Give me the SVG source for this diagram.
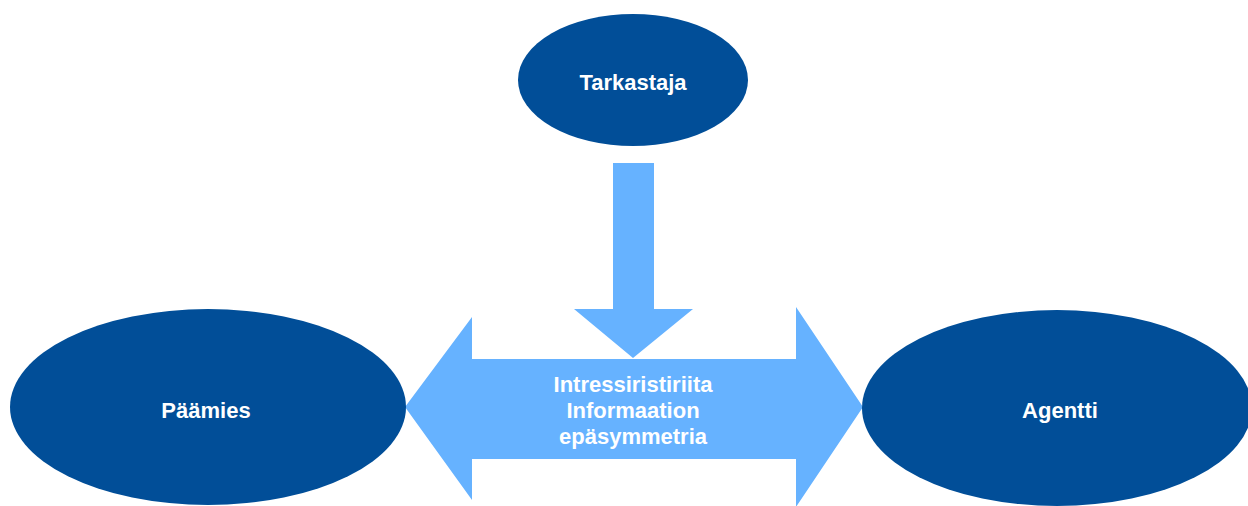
<svg xmlns="http://www.w3.org/2000/svg" width="1248" height="506" viewBox="0 0 1248 506">
<style>
.node{fill:#014e98}
.arrow{fill:#66b2ff}
.lbl{font-family:"Liberation Sans",Arial,sans-serif;font-weight:bold;font-size:22px;fill:#ffffff;text-anchor:middle}
</style>
<rect width="1248" height="506" fill="#ffffff"/>
<g id="connectors">
<polygon class="arrow" points="613,163 654,163 654,309 693,309 633,358 574,309 613,309"/>
<polygon class="arrow" points="405,407 472,317 472,359 796,359 796,307 863,407 796,507 796,459 472,459 472,500"/>
<text class="lbl" x="633" y="392">Intressiristiriita</text>
<text class="lbl" x="633" y="418">Informaation</text>
<text class="lbl" x="633" y="444">epäsymmetria</text>
</g>
<g id="tarkastaja">
<ellipse class="node" cx="633" cy="80" rx="115" ry="66"/>
<text class="lbl" x="633" y="90">Tarkastaja</text>
</g>
<g id="paamies">
<ellipse class="node" cx="208" cy="407" rx="198" ry="98"/>
<text class="lbl" x="206" y="418">Päämies</text>
</g>
<g id="agentti">
<ellipse class="node" cx="1057" cy="408" rx="195" ry="98"/>
<text class="lbl" x="1060" y="418">Agentti</text>
</g>
</svg>
